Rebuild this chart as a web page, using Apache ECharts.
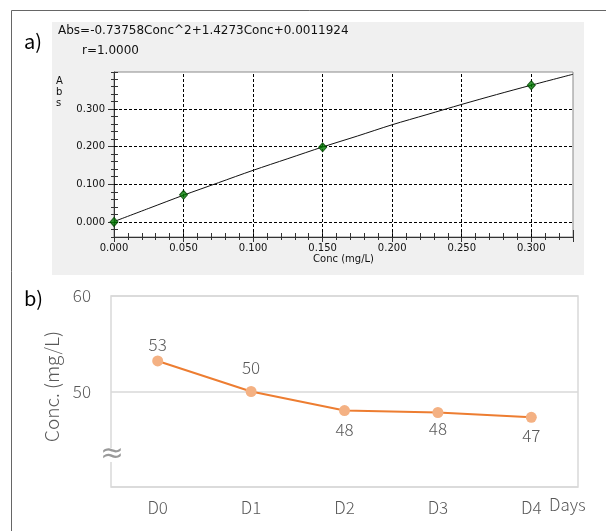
<!DOCTYPE html>
<html><head><meta charset="utf-8">
<script src="https://cdn.jsdelivr.net/npm/echarts@6/dist/echarts.min.js"></script>
<style>html,body{margin:0;padding:0;background:#fff}#c{width:606px;height:531px}</style>
</head><body><div id="c"></div>
<script>
// ---------- a) calibration curve ----------
const equationText = 'Abs=-0.73758Conc^2+1.4273Conc+0.0011924';
const rText = 'r=1.0000';
const stdConc = [0, 0.05, 0.15, 0.30];
const stdAbs = [0.000, 0.072, 0.198, 0.363];
const curveConc = [0, 0.025, 0.05, 0.075, 0.1, 0.125, 0.15, 0.175, 0.2, 0.225, 0.25, 0.275, 0.3, 0.33];
const curveAbs = [0.001, 0.036, 0.071, 0.104, 0.137, 0.168, 0.199, 0.228, 0.258, 0.285, 0.312, 0.338, 0.363, 0.392];
const xMajorTicks = [0, 0.05, 0.10, 0.15, 0.20, 0.25, 0.30];
const yMajorTicks = [0, 0.1, 0.2, 0.3];
const xGridLines = [0.05, 0.10, 0.15, 0.20, 0.25, 0.30];
const yGridLines = [0, 0.1, 0.2, 0.3];

// ---------- b) concentration over days ----------
const days = ['D0', 'D1', 'D2', 'D3', 'D4'];
const concValues = [53.2, 50.0, 48.0, 47.8, 47.3];
const bYMin = 40, bYMax = 60, bYStep = 10;

const topFont = 'DejaVu Sans';
const botFont = 'Noto Sans CJK JP';
const botWeight = 300;
const grey = '#595959';

const xA = {min: 0, max: 0.33, gridIndex: 0, type: 'value', position: 'bottom'};
const yA = {min: -0.04, max: 0.398, gridIndex: 0, type: 'value', position: 'left'};
const hidden = {show: false};

const labelPos = ['top', 'top', 'bottom', 'bottom', 'bottom'];
const labelDist = [2, 10, 5, 2, 4];

const chart = echarts.init(document.getElementById('c'), null, {renderer: 'canvas'});
chart.setOption({
  animation: false,
  backgroundColor: '#fff',
  graphic: [
    {type: 'rect', z: -10, shape: {x: 11.5, y: 10.5, width: 700, height: 600},
     style: {fill: '#fff', stroke: '#666', lineWidth: 1}},
    {type: 'rect', z: -9, shape: {x: 52, y: 22, width: 532, height: 253},
     style: {fill: '#f0f0f0'}},
    {type: 'text', z: 10, x: 24, y: 31, style: {text: 'a)', font: '20px "Noto Sans CJK JP"', fill: '#000'}},
    {type: 'text', z: 10, x: 58, y: 25, style: {text: equationText, font: '12px "DejaVu Sans"', fill: '#111'}},
    {type: 'text', z: 10, x: 82, y: 45, style: {text: rText, font: '12px "DejaVu Sans"', fill: '#111'}},
    {type: 'text', z: 10, x: 56, y: 76, style: {text: 'A\nb\ns', font: '10px "DejaVu Sans"', lineHeight: 11, fill: '#111'}},
    {type: 'text', z: 10, x: 24, y: 288, style: {text: 'b)', font: '20px "Noto Sans CJK JP"', fill: '#000'}},
    {type: 'text', z: 100, x: 112, y: 455,
     style: {text: '≈', font: '28px "DejaVu Sans"', fill: '#999', align: 'center', verticalAlign: 'middle',
             lineHeight: 14, backgroundColor: '#fff'}}
  ],
  grid: [
    {left: 114, top: 72, width: 459, height: 165, show: true, backgroundColor: '#fff',
     borderColor: '#8a8a8a', borderWidth: 1, containLabel: false},
    {left: 111, top: 296, width: 467, height: 191, show: true, backgroundColor: 'transparent',
     borderColor: '#d9d9d9', borderWidth: 1.5, containLabel: false}
  ],
  xAxis: [
    Object.assign({}, xA, {
      interval: 0.05,
      name: 'Conc (mg/L)', nameLocation: 'middle', nameGap: 17,
      nameTextStyle: {fontFamily: topFont, fontSize: 10, color: '#111'},
      axisLine: {show: true, onZero: false, lineStyle: {color: '#333', width: 1}},
      axisTick: {show: true, inside: false, length: 5, lineStyle: {color: '#333'}},
      axisLabel: {show: true, margin: 6, fontFamily: topFont, fontSize: 10, color: '#111',
        formatter: v => (Math.abs(v * 20 - Math.round(v * 20)) < 1e-6 ? v.toFixed(3) : '')},
      splitLine: hidden
    }),
    Object.assign({}, xA, {interval: 0.01, axisLine: {show: false, onZero: false},
      axisTick: {show: true, inside: false, length: 3, lineStyle: {color: '#333'}}, axisLabel: hidden, splitLine: hidden}),
    Object.assign({}, xA, {interval: 0.01, axisLine: {show: false, onZero: false},
      axisTick: {show: true, inside: true, length: 4, lineStyle: {color: '#333'}}, axisLabel: hidden, splitLine: hidden}),
    Object.assign({}, xA, {interval: 0.05, axisLine: {show: false, onZero: false},
      axisTick: {show: true, inside: true, length: 7, lineStyle: {color: '#333'}}, axisLabel: hidden, splitLine: hidden}),
    {
      type: 'category', gridIndex: 1, data: days, boundaryGap: true, position: 'bottom',
      name: 'Days', nameLocation: 'end', nameGap: -29,
      nameTextStyle: {fontFamily: botFont, fontWeight: botWeight, fontSize: 17, color: grey, align: 'left', verticalAlign: 'top', padding: [9, 0, 0, 0]},
      axisLine: {show: false}, axisTick: {show: false},
      axisLabel: {margin: 12, fontFamily: botFont, fontWeight: botWeight, fontSize: 17, color: grey},
      splitLine: hidden
    }
  ],
  yAxis: [
    Object.assign({}, yA, {
      axisLine: {show: true, onZero: false, lineStyle: {color: '#333', width: 1}},
      axisTick: {show: true, inside: false, length: 6, customValues: yMajorTicks, lineStyle: {color: '#333'}},
      axisLabel: {show: true, margin: 9, customValues: yMajorTicks, fontFamily: topFont, fontSize: 10, color: '#111',
        formatter: v => v.toFixed(3)},
      splitLine: hidden
    }),
    Object.assign({}, yA, {interval: 0.02, axisLine: {show: false, onZero: false},
      axisTick: {show: true, inside: false, length: 3, lineStyle: {color: '#333'}}, axisLabel: hidden, splitLine: hidden}),
    Object.assign({}, yA, {interval: 0.02, axisLine: {show: false, onZero: false},
      axisTick: {show: true, inside: true, length: 4, lineStyle: {color: '#333'}}, axisLabel: hidden, splitLine: hidden}),
    {
      type: 'value', gridIndex: 1, min: bYMin, max: bYMax, interval: bYStep, position: 'left',
      name: 'Conc. (mg/L)', nameLocation: 'middle', nameGap: 50,
      nameTextStyle: {fontFamily: botFont, fontWeight: botWeight, fontSize: 19, color: grey, padding: [0, 0, 0, 10]},
      axisLine: {show: false}, axisTick: {show: false},
      axisLabel: {margin: 20, fontFamily: botFont, fontWeight: botWeight, fontSize: 17, color: grey,
        formatter: v => (v === bYMin ? '' : String(v))},
      splitLine: {show: true, lineStyle: {color: '#d9d9d9', width: 1.5}}
    }
  ],
  series: [
    {
      type: 'line', xAxisIndex: 0, yAxisIndex: 0,
      data: curveConc.map((c, i) => [c, curveAbs[i]]),
      smooth: 0.3, showSymbol: false, symbol: 'none',
      lineStyle: {color: '#111', width: 1}, z: 5,
      markLine: {
        silent: true, symbol: ['none', 'none'], label: {show: false},
        lineStyle: {color: '#000', type: [3, 2], width: 1},
        data: xGridLines.map(v => ({xAxis: v})).concat(yGridLines.map(v => ({yAxis: v})))
      }
    },
    {
      type: 'scatter', xAxisIndex: 0, yAxisIndex: 0,
      data: stdConc.map((c, i) => [c, stdAbs[i]]),
      symbol: 'diamond', symbolSize: [8, 9], z: 6,
      itemStyle: {color: '#007a00', borderColor: '#004400', borderWidth: 1}
    },
    {
      type: 'line', xAxisIndex: 4, yAxisIndex: 3,
      data: concValues.map((v, i) => ({
        value: v,
        label: {position: labelPos[i], distance: labelDist[i]}
      })),
      symbol: 'circle', symbolSize: 11,
      lineStyle: {color: '#ed7d31', width: 2},
      itemStyle: {color: '#f4b183'},
      label: {show: true, fontFamily: botFont, fontWeight: botWeight, fontSize: 17, color: grey,
        formatter: p => String(Math.round(p.value))}
    }
  ]
});
</script>
</body></html>
